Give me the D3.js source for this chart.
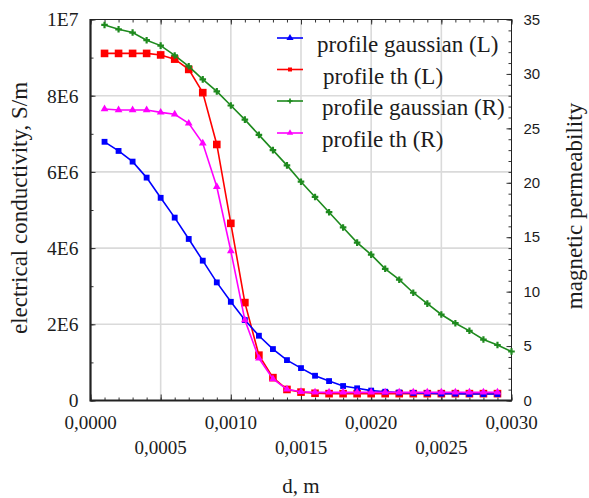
<!DOCTYPE html>
<html>
<head>
<meta charset="utf-8">
<script src="https://cdn.jsdelivr.net/npm/d3@7"></script>
<style>
  html, body { margin: 0; padding: 0; background: #fff; }
</style>
</head>
<body>
<div id="chart"></div>
<script>
// depth, m
const depth = [
  0.0001, 0.0002, 0.0003, 0.0004, 0.0005, 0.0006, 0.0007, 0.0008, 0.0009, 0.0010,
  0.0011, 0.0012, 0.0013, 0.0014, 0.0015, 0.0016, 0.0017, 0.0018, 0.0019, 0.0020,
  0.0021, 0.0022, 0.0023, 0.0024, 0.0025, 0.0026, 0.0027, 0.0028, 0.0029, 0.0030
];

// electrical conductivity, S/m (left axis)
const sigmaGaussian = [
  6.79e6, 6.55e6, 6.27e6, 5.85e6, 5.32e6, 4.80e6, 4.24e6, 3.67e6, 3.10e6, 2.59e6,
  2.11e6, 1.70e6, 1.35e6, 1.06e6, 0.85e6, 0.65e6, 0.51e6, 0.38e6, 0.32e6, 0.26e6,
  0.23e6, 0.21e6, 0.20e6, 0.19e6, 0.18e6, 0.18e6, 0.17e6, 0.17e6, 0.17e6
];
const sigmaTh = [
  9.11e6, 9.11e6, 9.11e6, 9.11e6, 9.07e6, 8.96e6, 8.69e6, 8.08e6, 6.72e6, 4.65e6,
  2.57e6, 1.19e6, 0.60e6, 0.29e6, 0.22e6, 0.19e6, 0.18e6, 0.18e6, 0.18e6, 0.18e6,
  0.18e6, 0.18e6, 0.18e6, 0.18e6, 0.18e6, 0.18e6, 0.18e6, 0.18e6, 0.18e6
];

// magnetic permeability (right axis)
const muGaussian = [
  34.5, 34.1, 33.8, 33.1, 32.6, 31.7, 30.7, 29.5, 28.4, 27.1,
  25.8, 24.4, 23.0, 21.6, 20.1, 18.7, 17.3, 15.9, 14.5, 13.4,
  12.1, 11.1, 9.9, 8.9, 7.9, 7.1, 6.4, 5.6, 5.1, 4.5
];
const muTh = [
  26.78, 26.69, 26.69, 26.69, 26.47, 26.29, 25.46, 23.63, 19.64, 13.73,
  7.39, 3.88, 1.98, 1.03, 0.80, 0.75, 0.75, 0.75, 0.75, 0.75,
  0.75, 0.75, 0.75, 0.75, 0.75, 0.75, 0.75, 0.75, 0.75
];

const seriesNames = [
  'profile gaussian (L)', 'profile  th (L)', 'profile gaussian (R)', 'profile th (R)'
];
const xTickValues = [0, 0.0005, 0.0010, 0.0015, 0.0020, 0.0025, 0.0030];
const xTickLabels = ['0,0000', '0,0005', '0,0010', '0,0015', '0,0020', '0,0025', '0,0030'];
const leftTickValues = [0, 2e6, 4e6, 6e6, 8e6, 1e7];
const leftTickLabels = ['0', '2E6', '4E6', '6E6', '8E6', '1E7'];
const rightTickValues = [0, 5, 10, 15, 20, 25, 30, 35];

const Painter = {};

Painter.option = () => {
  const width = 589;
  const height = 498;
  return {
    width,
    height,
    left: 90.5,
    right: 511.5,
    top: 19.5,
    bottom: 400.5,
    serif: '"Liberation Serif", "Times New Roman", serif',
    sans: '"Liberation Sans", Arial, sans-serif',
    ink: '#1c1c1c'
  };
};

Painter.paint = (container) => {
  const o = Painter.option();
  const svg = d3.select(container)
      .append('svg')
      .attr('width', o.width)
      .attr('height', o.height)
      .style('display', 'block');

  const x = d3.scaleLinear().domain([0, 0.003]).range([o.left, o.right]);
  const yL = d3.scaleLinear().domain([0, 1e7]).range([o.bottom, o.top]);
  const yR = d3.scaleLinear().domain([0, 35]).range([o.bottom, o.top]);

  // grid
  const grid = svg.append('g')
      .attr('stroke', '#dadada')
      .attr('stroke-width', 1.6);
  grid.selectAll('.gx')
      .data(xTickValues.slice(1, -1))
      .join('line')
      .attr('x1', (d) => x(d)).attr('x2', (d) => x(d))
      .attr('y1', o.top).attr('y2', o.bottom);
  grid.selectAll('.gy')
      .data(leftTickValues.slice(1, -1))
      .join('line')
      .attr('x1', o.left).attr('x2', o.right)
      .attr('y1', (d) => yL(d)).attr('y2', (d) => yL(d));

  // inward ticks, minor then major
  const tick = (axis, tx, ty) => {
    const g = svg.append('g')
        .attr('transform', `translate(${tx},${ty})`)
        .call(axis);
    g.select('.domain').remove();
    g.selectAll('line').attr('stroke', '#333').attr('stroke-width', 1);
    g.selectAll('text').remove();
  };
  const minorX = x.ticks(30);
  tick(d3.axisBottom(x).tickValues(minorX).tickSize(-3), 0, o.bottom);
  tick(d3.axisTop(x).tickValues(minorX).tickSize(-3), 0, o.top);
  tick(d3.axisBottom(x).tickValues(xTickValues).tickSize(-6), 0, o.bottom);
  tick(d3.axisTop(x).tickValues(xTickValues).tickSize(-5), 0, o.top);
  tick(d3.axisLeft(yL).tickValues(yL.ticks(10)).tickSize(-3), o.left, 0);
  tick(d3.axisLeft(yL).tickValues(leftTickValues).tickSize(-5), o.left, 0);
  tick(d3.axisRight(yR).tickValues(yR.ticks(35)).tickSize(-3), o.right, 0);
  tick(d3.axisRight(yR).tickValues(rightTickValues).tickSize(-5), o.right, 0);

  // frame
  svg.append('rect')
      .attr('x', o.left).attr('y', o.top)
      .attr('width', o.right - o.left).attr('height', o.bottom - o.top)
      .attr('fill', 'none').attr('stroke', '#222').attr('stroke-width', 1);
  svg.append('path')
      .attr('d', `M${o.left},${o.top - 0.5}V${o.bottom}H${o.right + 0.5}`)
      .attr('fill', 'none').attr('stroke', '#222').attr('stroke-width', 2.2);

  // tick labels
  svg.append('g')
      .attr('font-family', o.serif)
      .attr('font-size', 19.5)
      .attr('fill', o.ink)
      .attr('text-anchor', 'end')
      .selectAll('text')
      .data(leftTickValues)
      .join('text')
      .attr('x', o.left - 12)
      .attr('y', (d) => yL(d))
      .attr('dy', '0.35em')
      .text((d, i) => leftTickLabels[i]);

  svg.append('g')
      .attr('font-family', o.sans)
      .attr('font-size', 15)
      .attr('fill', o.ink)
      .selectAll('text')
      .data(rightTickValues)
      .join('text')
      .attr('x', o.right + 12)
      .attr('y', (d) => yR(d))
      .attr('dy', '0.35em')
      .text((d) => d);

  svg.append('g')
      .attr('font-family', o.serif)
      .attr('font-size', 19)
      .attr('fill', o.ink)
      .attr('text-anchor', 'middle')
      .selectAll('text')
      .data(xTickValues)
      .join('text')
      .attr('x', (d) => x(d))
      .attr('y', (d, i) => i % 2 ? 454 : 429)
      .text((d, i) => xTickLabels[i]);

  // axis titles
  svg.append('text')
      .attr('font-family', o.serif).attr('font-size', 21).attr('fill', o.ink)
      .attr('text-anchor', 'middle')
      .attr('x', 301).attr('y', 493)
      .text('d, m');
  svg.append('text')
      .attr('font-family', o.serif).attr('font-size', 23).attr('fill', o.ink)
      .attr('text-anchor', 'middle')
      .attr('transform', 'translate(27,208) rotate(-90)')
      .text('electrical conductivity, S/m');
  svg.append('text')
      .attr('font-family', o.serif).attr('font-size', 23).attr('fill', o.ink)
      .attr('text-anchor', 'middle')
      .attr('transform', 'translate(582,206) rotate(-90)')
      .text('magnetic permeability');

  // series
  const series = [
    {values: sigmaTh, y: yL, color: '#ff0000', symbol: d3.symbolSquare, size: 58},
    {values: sigmaGaussian, y: yL, color: '#0000ff', symbol: d3.symbolSquare, size: 34},
    {values: muTh, y: yR, color: '#ff00ff', symbol: d3.symbolTriangle, size: 26},
    {values: muGaussian, y: yR, color: '#1e8a1e', symbol: d3.symbolCross, size: 24}
  ];

  series.forEach((s) => {
    const pts = s.values.map((v, i) => [x(depth[i]), s.y(v)]);
    svg.append('path')
        .attr('d', d3.line()(pts))
        .attr('fill', 'none')
        .attr('stroke', s.color)
        .attr('stroke-width', 1.6);
    svg.append('g')
        .selectAll('path')
        .data(pts)
        .join('path')
        .attr('transform', (d) => `translate(${d[0]},${d[1]})`)
        .attr('d', d3.symbol(s.symbol, s.size))
        .attr('fill', s.color);
  });

  // legend
  const legendSymbols = [
    {color: '#0000ff', symbol: d3.symbolTriangle, size: 22},
    {color: '#ff0000', symbol: d3.symbolSquare, size: 16},
    {color: '#1e8a1e', symbol: d3.symbolCross, size: 14},
    {color: '#ff00ff', symbol: d3.symbolTriangle, size: 18}
  ];
  const rowY = [38, 69.5, 101, 133];
  const textX = [317, 323, 322, 322];
  const legend = svg.append('g');
  seriesNames.forEach((name, i) => {
    legend.append('line')
        .attr('x1', 277).attr('x2', 303)
        .attr('y1', rowY[i]).attr('y2', rowY[i])
        .attr('stroke', legendSymbols[i].color)
        .attr('stroke-width', 1.6);
    legend.append('path')
        .attr('transform', `translate(290,${rowY[i]})`)
        .attr('d', d3.symbol(legendSymbols[i].symbol, legendSymbols[i].size))
        .attr('fill', legendSymbols[i].color);
    legend.append('text')
        .attr('font-family', o.serif)
        .attr('font-size', 23)
        .attr('fill', o.ink)
        .attr('x', textX[i])
        .attr('y', rowY[i] + 14)
        .text(name.replace('  ', ' '));
  });
};

Painter.paint(document.getElementById('chart'));
</script>
</body>
</html>
